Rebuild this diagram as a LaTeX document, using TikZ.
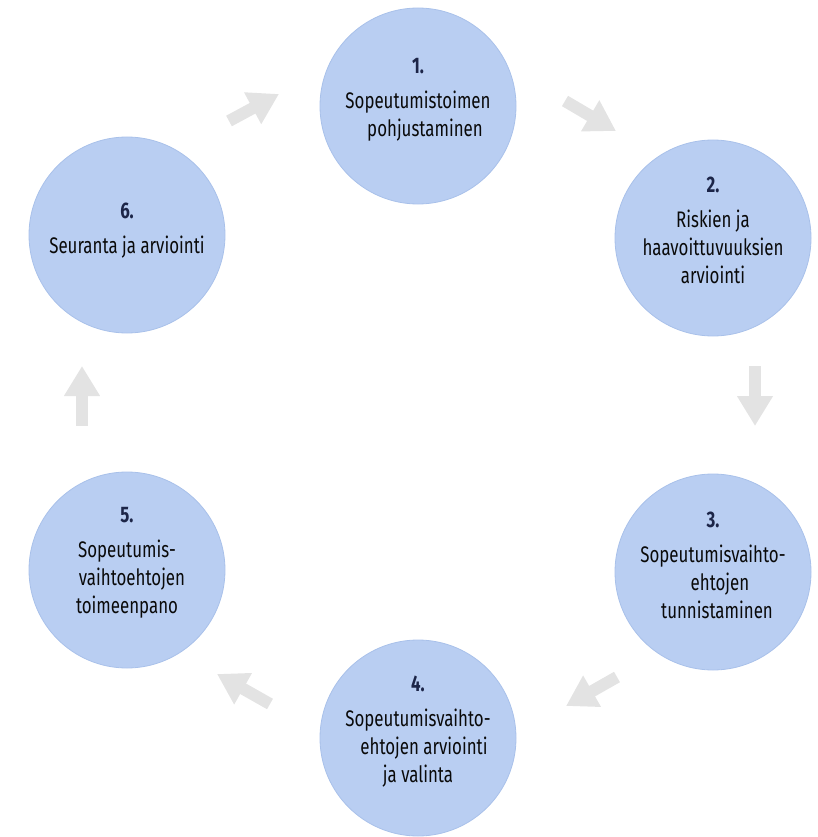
\documentclass[tikz,border=0pt]{standalone}
\usepackage{fontspec}
\setmainfont{Fira Sans}[FakeStretch=0.75]
\usetikzlibrary{arrows.meta}
\definecolor{circfill}{HTML}{B9CEF2}
\definecolor{circedge}{HTML}{A9C1EA}
\definecolor{numcol}{HTML}{1C2548}
\definecolor{txtcol}{HTML}{0A0A0A}
\definecolor{arrcol}{HTML}{E3E3E3}
\tikzset{
  stepcircle/.style={circle, draw=circedge, line width=0.8pt, fill=circfill,
    minimum size=196pt, inner sep=0pt},
  steptext/.style={align=center, text=txtcol, font=\fontsize{22.5}{28}\selectfont},
  flowarrow/.style={draw=arrcol, line width=12pt,
    -{Triangle[length=30pt,width=34pt]}},
}
\newcommand{\stepnum}[1]{{\bfseries\color{numcol}#1}\\[7pt]}
\begin{document}
\begin{tikzpicture}[x=1pt,y=-1pt]
\useasboundingbox (0,0) rectangle (818,837);
% circles
\node[stepcircle] (c1) at (418,106) {};
\node[stepcircle] (c2) at (713,238) {};
\node[stepcircle] (c3) at (713,572) {};
\node[stepcircle] (c4) at (418,738) {};
\node[stepcircle] (c5) at (127,570) {};
\node[stepcircle] (c6) at (127,235) {};
% texts
\node[steptext] (t1) at (418,100) {\stepnum{1.}Sopeutumistoimen\\\hspace*{14pt}pohjustaminen};
\node[steptext] (t2) at (713,230) {\stepnum{2.}Riskien ja\\haavoittuvuuksien\\arviointi};
\node[steptext] (t3) at (713,565) {\stepnum{3.}Sopeutumisvaihto-\\\hspace*{14pt}ehtojen\\\hspace*{8pt}tunnistaminen};
\node[steptext] (t4) at (418,732) {\stepnum{4.}Sopeutumisvaihto-\\\hspace*{12pt}ehtojen arviointi\\ja valinta};
\node[steptext] (t5) at (127,563) {\stepnum{5.}Sopeutumis-\\\hspace*{10pt}vaihtoehtojen\\toimeenpano};
\node[steptext] (t6) at (127,231) {\stepnum{6.}Seuranta ja arviointi};
% arrow endpoints
\coordinate (a61) at (229,121); \coordinate (b61) at (279,94);
\coordinate (a12) at (565,101); \coordinate (b12) at (616,131);
\coordinate (a23) at (755,366); \coordinate (b23) at (755,426);
\coordinate (a34) at (617,677); \coordinate (b34) at (566,706);
\coordinate (a45) at (270,704); \coordinate (b45) at (217,674);
\coordinate (a56) at (82,426);  \coordinate (b56) at (82,366);
\draw[flowarrow] (a61) -- (b61);
\draw[flowarrow] (a12) -- (b12);
\draw[flowarrow] (a23) -- (b23);
\draw[flowarrow] (a34) -- (b34);
\draw[flowarrow] (a45) -- (b45);
\draw[flowarrow] (a56) -- (b56);
\end{tikzpicture}
\end{document}
